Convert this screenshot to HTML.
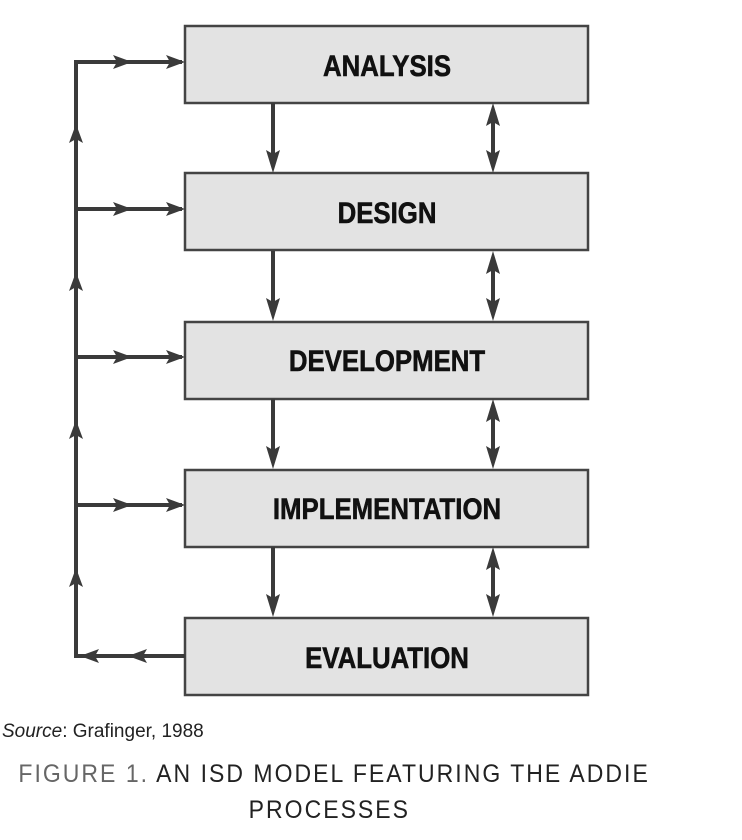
<!DOCTYPE html>
<html><head><meta charset="utf-8"><style>
html,body{margin:0;padding:0;background:#fff;}
svg{display:block;}
</style></head><body>
<svg width="742" height="840" viewBox="0 0 742 840" xmlns="http://www.w3.org/2000/svg">
<g stroke="#444" stroke-width="2.5" fill="#e3e3e3">
<rect x="185" y="26" width="403" height="77"/>
<rect x="185" y="173" width="403" height="77"/>
<rect x="185" y="322" width="403" height="77"/>
<rect x="185" y="470" width="403" height="77"/>
<rect x="185" y="618" width="403" height="77"/>
</g>
<g transform="translate(387,0) scale(0.86,1)" font-family="'Liberation Sans',sans-serif" font-weight="bold" font-size="30" fill="#111" text-anchor="middle" stroke="#111" stroke-width="0.6">
<text x="0" y="76">ANALYSIS</text>
<text x="0" y="223">DESIGN</text>
<text x="0" y="371">DEVELOPMENT</text>
<text x="0" y="519">IMPLEMENTATION</text>
<text x="0" y="668">EVALUATION</text>
</g>
<g stroke="#3a3a3a" stroke-width="4" fill="none">
<polyline points="185,656 76,656 76,62 182,62"/>
<line x1="76" y1="209" x2="182" y2="209"/>
<line x1="76" y1="357" x2="182" y2="357"/>
<line x1="76" y1="505" x2="182" y2="505"/>
</g>
<g fill="#3a3a3a">
<g id="ra"><polygon points="185,62 166,55 170,62 166,69"/><polygon points="132,62 113,55 117,62 113,69"/></g>
<use href="#ra" y="147"/><use href="#ra" y="295"/><use href="#ra" y="443"/>
<polygon points="80,656 99,649 95,656 99,663"/><polygon points="128,656 147,649 143,656 147,663"/>
<polygon points="76,124 69,143 76,139 83,143"/>
<polygon points="76,272 69,291 76,287 83,291"/>
<polygon points="76,420 69,439 76,435 83,439"/>
<polygon points="76,568 69,587 76,583 83,587"/>
</g>
<g id="conn">
<line x1="273" y1="103" x2="273" y2="160" stroke="#3a3a3a" stroke-width="4"/>
<polygon points="273,173 266,150 273,154 280,150" fill="#3a3a3a"/>
<line x1="493" y1="116" x2="493" y2="160" stroke="#3a3a3a" stroke-width="4"/>
<polygon points="493,173 486,150 493,154 500,150" fill="#3a3a3a"/>
<polygon points="493,103 486,126 493,122 500,126" fill="#3a3a3a"/>
</g>
<use href="#conn" y="148"/><use href="#conn" y="296"/><use href="#conn" y="444"/>
<text x="2" y="737" font-family="'Liberation Sans',sans-serif" font-size="19" fill="#222"><tspan font-style="italic">Source</tspan>: Grafinger, 1988</text>
<g transform="scale(0.92,1)" font-family="'Liberation Sans',sans-serif" font-size="25" fill="#222" letter-spacing="2.2">
<text x="20" y="782"><tspan fill="#666">FIGURE 1.</tspan>  AN ISD MODEL FEATURING THE ADDIE</text>
<text x="358" y="818" text-anchor="middle">PROCESSES</text>
</g>
</svg>
</body></html>
